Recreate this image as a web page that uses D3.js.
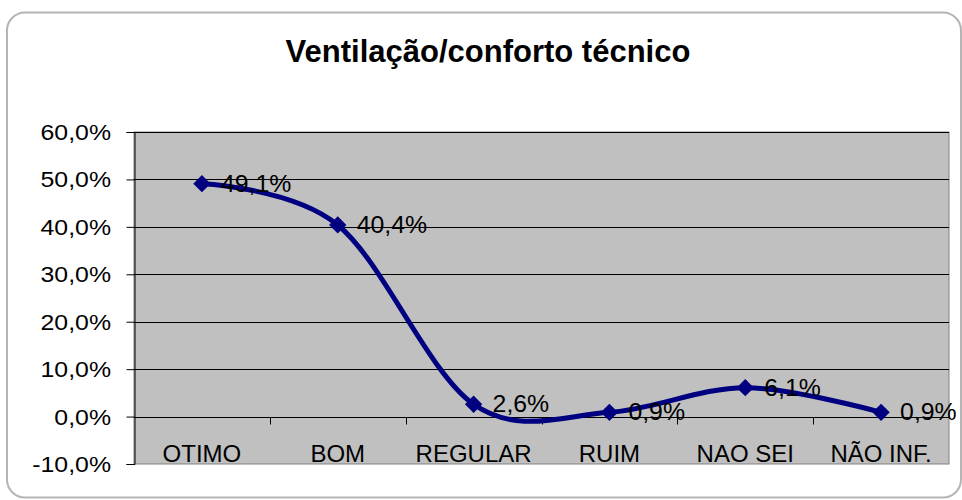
<!DOCTYPE html>
<html>
<head>
<meta charset="utf-8">
<script src="https://cdn.jsdelivr.net/npm/d3@7"></script>
<style>
  html, body { margin: 0; padding: 0; background: #fff; }
  svg { display: block; }
  text { font-family: "Liberation Sans", Arial, sans-serif; fill: #000; }
</style>
</head>
<body>
<svg id="chart" width="962" height="500"></svg>
<script>
// Survey answers and their shares (%)
const categories = ["OTIMO", "BOM", "REGULAR", "RUIM", "NAO SEI", "NÃO INF."];
const shares = [49.1, 40.4, 2.6, 0.9, 6.1, 0.9];
const valueTicks = [-10, 0, 10, 20, 30, 40, 50, 60];
const chartTitle = "Ventilação/conforto técnico";

const fmt = v => v.toFixed(1).replace(".", ",") + "%";

const svg = d3.select("#chart");
const W = 962, H = 500;
const plot = { left: 134, right: 949, top: 132, bottom: 464 };

// Outer frame
svg.append("rect")
  .attr("x", 7).attr("y", 12.5)
  .attr("width", 961 - 7).attr("height", 497.5 - 12.5)
  .attr("rx", 18).attr("ry", 18)
  .attr("fill", "#fff")
  .attr("stroke", "#b4b4b4").attr("stroke-width", 2);

// Title
svg.append("text")
  .attr("x", 488).attr("y", 62)
  .attr("text-anchor", "middle")
  .style("font-size", "31px").style("font-weight", "bold")
  .text(chartTitle);

const x = d3.scaleBand().domain(categories).range([plot.left, plot.right]).padding(0);
const y = d3.scaleLinear().domain([-10, 60]).range([plot.bottom, plot.top]);

// Plot area
svg.append("rect")
  .attr("x", plot.left).attr("y", plot.top)
  .attr("width", plot.right - plot.left).attr("height", plot.bottom - plot.top)
  .attr("fill", "#c0c0c0")
  .attr("stroke", "#808080").attr("stroke-width", 1);

// Gridlines
svg.append("g").selectAll("line")
  .data(valueTicks.filter(v => v > -10))
  .join("line")
  .attr("x1", plot.left).attr("x2", plot.right)
  .attr("y1", d => Math.round(y(d)) + 0.5).attr("y2", d => Math.round(y(d)) + 0.5)
  .attr("stroke", "#000").attr("stroke-width", 1);

// Value axis
const yAxis = svg.append("g")
  .attr("transform", `translate(${plot.left + 0.5},0)`)
  .call(d3.axisLeft(y).tickValues(valueTicks).tickSize(8).tickFormat(""));
yAxis.select(".domain").attr("stroke", "#000");
yAxis.selectAll(".tick line").attr("stroke", "#000");

svg.append("g").selectAll("text")
  .data(valueTicks)
  .join("text")
  .attr("transform", d => `translate(111,${y(d) + 8}) scale(1.13,1)`)
  .attr("text-anchor", "end")
  .style("font-size", "22px")
  .text(d => fmt(d));

// Category axis on the zero line
const y0 = Math.round(y(0)) + 0.5;
svg.append("line")
  .attr("x1", plot.left).attr("x2", plot.right)
  .attr("y1", y0).attr("y2", y0)
  .attr("stroke", "#000");
svg.append("g").selectAll("line")
  .data(categories.slice(1))
  .join("line")
  .attr("x1", d => Math.round(x(d)) + 0.5).attr("x2", d => Math.round(x(d)) + 0.5)
  .attr("y1", y0).attr("y2", y0 + 7)
  .attr("stroke", "#000");

svg.append("g").selectAll("text")
  .data(categories)
  .join("text")
  .attr("x", d => x(d) + x.bandwidth() / 2)
  .attr("y", 462)
  .attr("text-anchor", "middle")
  .style("font-size", "24px")
  .text(d => d);

// Series
const pts = categories.map((c, i) => ({ c, v: shares[i] }));
const line = d3.line()
  .x(d => x(d.c) + x.bandwidth() / 2)
  .y(d => y(d.v))
  .curve(d3.curveCardinal.tension(0));

svg.append("path")
  .datum(pts)
  .attr("d", line)
  .attr("fill", "none")
  .attr("stroke", "#000080")
  .attr("stroke-width", 5)
  .attr("stroke-linejoin", "round");

const diamond = d3.symbol(d3.symbolSquare, 150)();
svg.append("g").selectAll("path")
  .data(pts)
  .join("path")
  .attr("d", diamond)
  .attr("transform", d => `translate(${x(d.c) + x.bandwidth() / 2},${y(d.v)}) rotate(45)`)
  .attr("fill", "#000080");

// Value labels
svg.append("g").selectAll("text")
  .data(pts)
  .join("text")
  .attr("transform", d => `translate(${x(d.c) + x.bandwidth() / 2 + 19},${y(d.v) + 8}) scale(1.08,1)`)
  .style("font-size", "23px")
  .text(d => fmt(d.v));
</script>
</body>
</html>
